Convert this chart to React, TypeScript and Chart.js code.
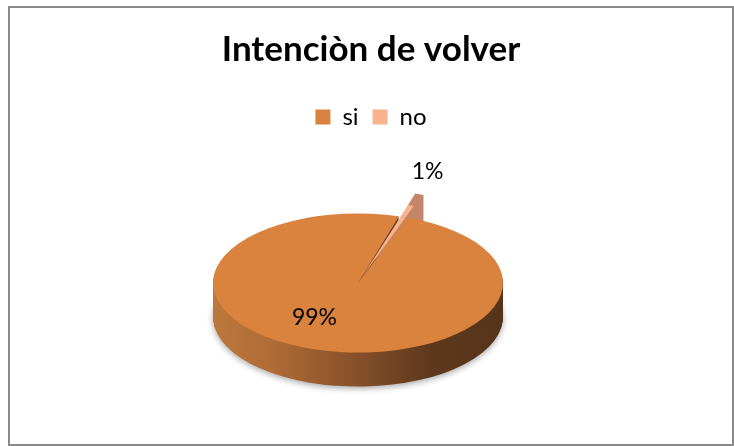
import React, { useEffect, useRef } from 'react';
import { Chart, registerables } from 'chart.js';

Chart.register(...registerables);

const TITLE = 'Intenciòn de volver';
const categories = ['si', 'no'];
const values = [99, 1];
const valueLabels = ['99%', '1%'];
const topColors = ['#D9833E', '#F9B38C'];
const sideColorNo = '#C4866A';

const SQUASH = 0.48;
const DEPTH = 34;
const TARGET = { x: 348, y: 275 };

const pie3d = {
  id: 'pie3d',
  beforeDatasetsDraw(chart: any) {
    const ctx = chart.ctx as CanvasRenderingContext2D;
    const arcs = chart.getDatasetMeta(0).data as any[];
    if (!arcs.length) return;
    const cx = arcs[0].x;
    const cy = arcs[0].y;
    const R = arcs[0].outerRadius;
    const apply = (dy: number) => {
      ctx.translate(TARGET.x, TARGET.y + dy);
      ctx.scale(1, SQUASH);
      ctx.translate(-cx, -cy);
    };
    for (let d = DEPTH; d >= 1; d--) {
      ctx.save();
      apply(d);
      arcs.forEach((arc: any, i: number) => {
        const { startAngle, endAngle, outerRadius } = arc;
        const off = arc.options.offset || 0;
        const mid = (startAngle + endAngle) / 2;
        const ox = cx + Math.cos(mid) * off;
        const oy = cy + Math.sin(mid) * off;
        ctx.beginPath();
        ctx.moveTo(ox, oy);
        ctx.arc(ox, oy, outerRadius, startAngle, endAngle);
        ctx.closePath();
        if (i === 0) {
          const g = ctx.createLinearGradient(cx - R, 0, cx + R, 0);
          g.addColorStop(0, '#BC773C');
          g.addColorStop(0.2, '#B06C35');
          g.addColorStop(0.5, '#85502A');
          g.addColorStop(0.75, '#5E381C');
          g.addColorStop(1, '#55341A');
          ctx.fillStyle = g;
        } else {
          ctx.fillStyle = sideColorNo;
        }
        if (d === DEPTH && i === 0) {
          ctx.shadowColor = 'rgba(0,0,0,0.35)';
          ctx.shadowBlur = 6;
          ctx.shadowOffsetY = 2;
        } else {
          ctx.shadowColor = 'rgba(0,0,0,0)';
          ctx.shadowBlur = 0;
          ctx.shadowOffsetY = 0;
        }
        ctx.fill();
      });
      ctx.restore();
    }
    ctx.save();
    apply(0);
  },
  afterDatasetsDraw(chart: any) {
    const ctx = chart.ctx as CanvasRenderingContext2D;
    const arcs = chart.getDatasetMeta(0).data as any[];
    if (!arcs.length) return;
    ctx.restore();
    const cx = arcs[0].x;
    const cy = arcs[0].y;
    const toScreen = (x: number, y: number) => ({
      x: TARGET.x + (x - cx),
      y: TARGET.y + (y - cy) * SQUASH,
    });
    ctx.save();
    ctx.font = '23px Lato';
    ctx.fillStyle = '#000';
    ctx.textAlign = 'center';
    ctx.textBaseline = 'middle';
    arcs.forEach((arc: any, i: number) => {
      const { startAngle, endAngle, outerRadius } = arc;
      const off = arc.options.offset || 0;
      const mid = (startAngle + endAngle) / 2;
      let p;
      if (off > 0) {
        const r = outerRadius + off;
        const tip = toScreen(cx + Math.cos(mid) * r, cy + Math.sin(mid) * r);
        p = { x: tip.x + 8, y: tip.y - 22 };
      } else {
        const a = mid + (13 * Math.PI) / 180;
        const r = outerRadius * 0.58;
        p = toScreen(cx + Math.cos(a) * r, cy + Math.sin(a) * r);
      }
      ctx.fillText(valueLabels[i], p.x, p.y);
    });
    ctx.restore();
  },
};

export default function App() {
  const ref = useRef<HTMLCanvasElement | null>(null);
  useEffect(() => {
    if (!ref.current) return;
    const chart = new Chart(ref.current, {
      type: 'pie',
      data: {
        labels: categories,
        datasets: [
          {
            data: values,
            backgroundColor: topColors,
            borderWidth: 0,
            offset: [0, 52],
          },
        ],
      },
      options: {
        animation: false,
        responsive: false,
        rotation: 20,
        radius: 145,
        plugins: {
          title: {
            display: true,
            text: TITLE,
            color: '#000',
            font: { family: 'Lato', size: 35, weight: 'bold' },
            padding: { top: 21, bottom: 20 },
          },
          legend: {
            position: 'top',
            labels: {
              boxWidth: 15,
              boxHeight: 15,
              color: '#000',
              padding: 14,
              font: { family: 'Lato', size: 24 },
            },
          },
          tooltip: { enabled: false },
        },
      } as any,
      plugins: [pie3d],
    });
    return () => chart.destroy();
  }, []);
  return (
    <div
      style={{
        position: 'absolute',
        left: 8,
        top: 6,
        width: 726,
        height: 440,
        boxSizing: 'border-box',
        border: '2px solid #8A8A8A',
        background: '#fff',
        overflow: 'hidden',
      }}
    >
      <canvas ref={ref} width={722} height={436} style={{ display: 'block' }} />
    </div>
  );
}
